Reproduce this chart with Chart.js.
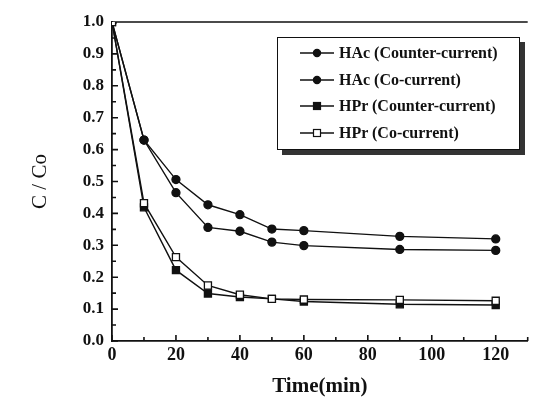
<!DOCTYPE html>
<html>
<head>
<meta charset="utf-8">
<script src="https://cdn.jsdelivr.net/npm/chart.js@4.4.1/dist/chart.umd.min.js"></script>
<style>
  html, body { margin: 0; padding: 0; background: #fff; }
  .wrap { position: relative; width: 534px; height: 403px; overflow: hidden; }
  .legend-box {
    position: absolute; left: 277px; top: 37px; width: 243px; height: 113px;
    border: 1.5px solid #111; background: #fff; box-shadow: 5px 5px 0 #333;
    box-sizing: border-box; padding-top: 2px;
    font-family: "Liberation Serif", "DejaVu Serif", serif; font-weight: bold; font-size: 16px; color: #111;
  }
  .legend-row { display: flex; align-items: center; height: 26.6px; padding-left: 22px; }
  .legend-row svg { margin-right: 5px; }
</style>
</head>
<body>
<div class="wrap">
  <canvas id="chart" width="534" height="403"></canvas>
  <div class="legend-box" id="legend"></div>
</div>
<script>
const times = [0, 10, 20, 30, 40, 50, 60, 90, 120];
const hacCounter = [1.0, 0.63, 0.465, 0.356, 0.344, 0.310, 0.299, 0.287, 0.284];
const hacCo = [1.0, 0.63, 0.506, 0.427, 0.396, 0.351, 0.346, 0.328, 0.320];
const hprCounter = [1.0, 0.419, 0.222, 0.149, 0.138, 0.132, 0.124, 0.115, 0.113];
const hprCo = [1.0, 0.432, 0.263, 0.174, 0.145, 0.132, 0.130, 0.129, 0.126];
const seriesNames = ["HAc (Counter-current)", "HAc (Co-current)", "HPr (Counter-current)", "HPr (Co-current)"];
const xTicks = [0, 20, 40, 60, 80, 100, 120];

const ink = "#111";
const serif = "'Liberation Serif', 'DejaVu Serif', serif";

function pts(ys) {
  return times.map((t, i) => ({ x: t, y: ys[i] }));
}

const styles = [
  { pointStyle: "circle", radius: 4, fill: ink },
  { pointStyle: "circle", radius: 4, fill: ink },
  { pointStyle: "rect", radius: 5, fill: ink },
  { pointStyle: "rect", radius: 5, fill: "#fff" }
];

const frameTicks = {
  id: "frameTicks",
  beforeDatasetsDraw(chart) {
    const { ctx, chartArea: a, scales: { x, y } } = chart;
    ctx.save();
    ctx.strokeStyle = ink;
    ctx.lineWidth = 1.6;
    ctx.beginPath();
    ctx.moveTo(a.left, a.top);
    ctx.lineTo(a.right, a.top);
    for (let v = 0; v <= 130; v += 10) {
      const px = x.getPixelForValue(v);
      const len = v % 20 === 0 ? 6 : 4;
      ctx.moveTo(px, a.bottom);
      ctx.lineTo(px, a.bottom - len);
    }
    for (let i = 0; i <= 20; i++) {
      const py = y.getPixelForValue(i * 0.05);
      const len = i % 2 === 0 ? 6 : 4;
      ctx.moveTo(a.left, py);
      ctx.lineTo(a.left + len, py);
    }
    ctx.stroke();
    ctx.restore();
  }
};

new Chart(document.getElementById("chart"), {
  type: "line",
  data: {
    datasets: [hacCounter, hacCo, hprCounter, hprCo].map((ys, i) => ({
      label: seriesNames[i],
      data: pts(ys),
      borderColor: ink,
      borderWidth: 1.4,
      pointStyle: styles[i].pointStyle,
      pointRadius: styles[i].radius,
      pointBackgroundColor: styles[i].fill,
      pointBorderColor: ink,
      pointBorderWidth: 1.3,
      tension: 0,
      fill: false,
      order: 3 - i
    }))
  },
  options: {
    responsive: false,
    animation: false,
    layout: { padding: { left: 0, top: 22, right: 0, bottom: 0 } },
    plugins: { legend: { display: false }, tooltip: { enabled: false } },
    scales: {
      x: {
        type: "linear",
        min: 0,
        max: 130,
        afterBuildTicks: scale => { scale.ticks = xTicks.map(v => ({ value: v })); },
        afterFit: scale => { scale.height = 62; },
        grid: { display: false, drawTicks: false },
        border: { display: true, color: ink, width: 1.8 },
        ticks: { color: ink, padding: 4, font: { family: serif, size: 18, weight: "bold" } },
        title: {
          display: true, text: "Time(min)", color: ink, padding: { top: 8 },
          font: { family: serif, size: 21, weight: "bold" }
        }
      },
      y: {
        min: 0,
        max: 1,
        ticks: {
          stepSize: 0.1, color: ink, padding: 8,
          font: { family: serif, size: 17, weight: "bold" },
          callback: v => v.toFixed(1)
        },
        afterFit: scale => { scale.width = 112; },
        grid: { display: false, drawTicks: false },
        border: { display: true, color: ink, width: 1.8 },
        title: {
          display: true, text: "C / Co", color: ink, padding: { top: 28 },
          font: { family: serif, size: 21 }
        }
      }
    }
  },
  plugins: [frameTicks]
});

// legend drawn as html inside the plot area
const legend = document.getElementById("legend");
seriesNames.forEach((name, i) => {
  const s = styles[i];
  const mark = s.pointStyle === "circle"
    ? `<circle cx="17" cy="7" r="3.6" fill="${s.fill}" stroke="${ink}" stroke-width="1.2"/>`
    : `<rect x="13.5" y="3.5" width="7" height="7" fill="${s.fill}" stroke="${ink}" stroke-width="1.2"/>`;
  legend.insertAdjacentHTML("beforeend", `
    <div class="legend-row">
      <svg width="34" height="14"><line x1="0" y1="7" x2="34" y2="7" stroke="${ink}" stroke-width="1.3"/>${mark}</svg>
      <span>${name}</span>
    </div>`);
});
</script>
</body>
</html>
